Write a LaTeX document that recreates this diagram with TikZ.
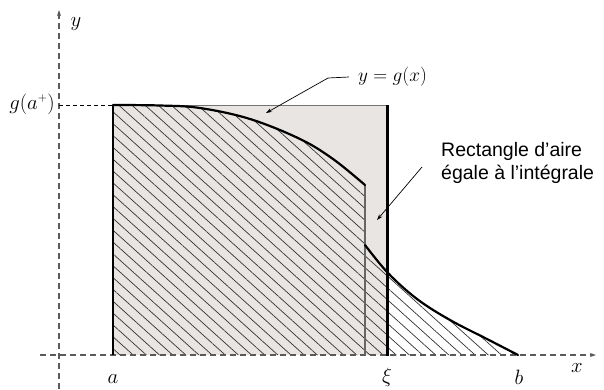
\documentclass[tikz,border=0pt]{standalone}
\usepackage{fontspec}
\newfontfamily\helv{Liberation Sans}
\usetikzlibrary{arrows.meta,patterns.meta}
\definecolor{rectgray}{RGB}{233,229,227}
\definecolor{axisgray}{RGB}{90,90,90}
\tikzset{
  axisline/.style={axisgray, line width=1.1pt, dash pattern=on 6pt off 4pt, -{Stealth[length=6pt,width=4pt]}},
  guide/.style={black, line width=0.7pt, dash pattern=on 4pt off 3pt},
  curveline/.style={black, line width=2.2pt, line cap=round},
  annot/.style={black, line width=0.7pt, -{Stealth[length=6pt,width=4pt]}},
  mathlbl/.style={font=\fontsize{20.74}{24}\selectfont, inner sep=1pt},
  sanslbl/.style={font=\helv\fontsize{19.5}{23}\selectfont, inner sep=0pt, align=left},
}
\begin{document}
\begin{tikzpicture}[x=1pt,y=-1pt]
\useasboundingbox (0,0) rectangle (604,389);
% shaded rectangle
\fill[rectgray] (113,105) rectangle (387,355);
% hatched area under the curve
\fill[pattern={Lines[angle=-42,distance=8.8pt,line width=0.7pt]}, pattern color=black!80]
  (113,355) -- (113,105)
  -- plot[smooth, tension=0.6] coordinates {(113,105) (160,105.5) (200,108) (250,119) (300,139) (333,159) (365,185)}
  -- (365,245)
  -- plot[smooth, tension=0.6] coordinates {(365,245) (388,273) (417,299) (450,320) (487,339) (518,355)}
  -- cycle;
% axes
\draw[axisline] (59,389) -- (59,10);
\draw[axisline] (40,355) -- (596,355);
% edges
\draw[black!55, line width=1pt] (113,105.5) -- (387,105.5);
\draw[black, line width=1.2pt] (113,105) -- (113,355);
\draw[black!60, line width=1.2pt] (365,185) -- (365,355);
\draw[black, line width=3pt] (387,105) -- (387,356);
\draw[guide] (59,105) -- (113,105);
% curve
\draw[curveline] plot[smooth, tension=0.6] coordinates {(113,105) (160,105.5) (200,108) (250,119) (300,139) (333,159) (365,185)};
\draw[curveline] plot[smooth, tension=0.6] coordinates {(365,245) (388,273) (417,299) (450,320) (487,339) (518,355)};
% labels
\node[mathlbl] (ylab) at (76,24) {$y$};
\node[mathlbl] (xlab) at (577,368) {$x$};
\node[mathlbl] (alab) at (113,379) {$a$};
\node[mathlbl] (xilab) at (387,377) {$\xi$};
\node[mathlbl] (blab) at (519,377) {$b$};
\node[mathlbl, anchor=east] (galab) at (56,104) {$g(a^{\scriptscriptstyle +})$};
\node[mathlbl, anchor=west] (gxlab) at (357,77) {\scalebox{0.93}{$y = g(x)$}};
\node[sanslbl, anchor=west] (rectlab) at (441,163) {Rectangle d’aire\\égale à l’intégrale};
% annotation arrows
\coordinate (gxtip) at (266,113);
\coordinate (recttip) at (377,220);
\coordinate (gxbend) at (328,78);
\draw[annot] ([xshift=-8pt]gxlab.west) -- (gxbend) -- (gxtip);
\draw[annot] (422,167) -- (recttip);
\end{tikzpicture}
\end{document}
